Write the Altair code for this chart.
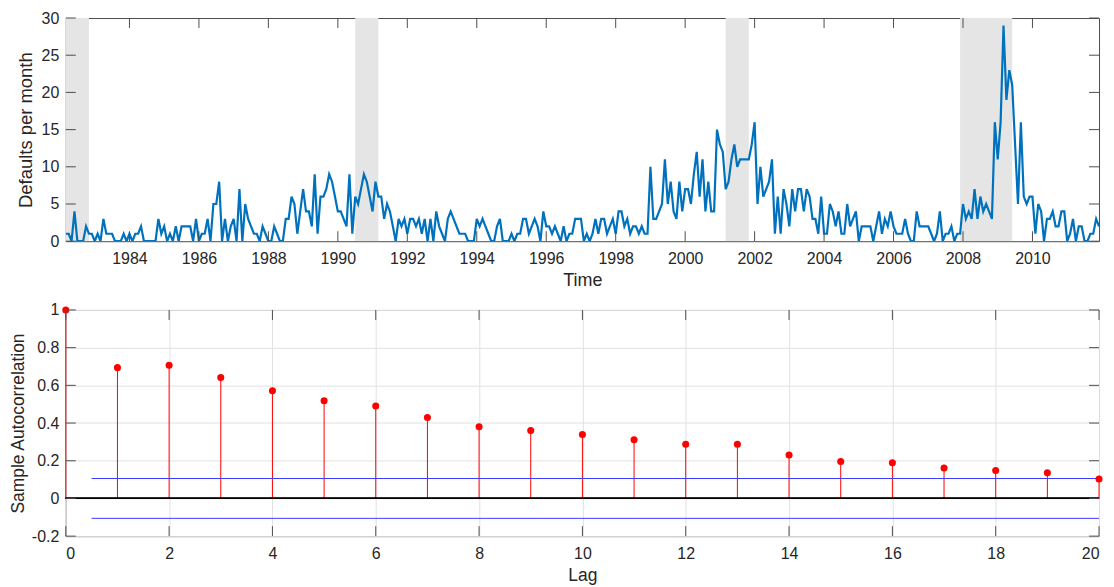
import altair as alt
import pandas as pd

# ---------------- data ----------------
START_YEAR = 1982
START_MONTH = 3  # first observation: March 1982 (monthly to Dec 2011)
defaults = [
    1, 1, 0, 4, 0, 0, 0, 2, 1, 1,
    0, 1, 0, 3, 1, 1, 1, 0, 0, 0,
    1, 0, 1, 0, 1, 1, 2, 0, 0, 0,
    0, 0, 3, 1, 2, 0, 1, 0, 2, 0,
    2, 2, 2, 2, 0, 3, 0, 1, 1, 3,
    0, 5, 5, 8, 0, 3, 0, 2, 3, 0,
    7, 0, 5, 3, 2, 1, 1, 0, 2, 1,
    0, 0, 2, 1, 0, 0, 3, 3, 6, 5,
    1, 4, 7, 4, 4, 2, 9, 1, 6, 6,
    7, 9, 8, 6, 4, 4, 3, 2, 9, 1,
    6, 5, 7, 9, 8, 6, 4, 8, 6, 6,
    3, 5, 4, 2, 0, 3, 2, 3, 1, 3,
    3, 2, 3, 1, 3, 0, 3, 0, 4, 2,
    1, 0, 3, 4, 3, 2, 1, 1, 1, 0,
    0, 0, 3, 2, 3, 2, 1, 0, 0, 2,
    3, 0, 0, 0, 1, 0, 1, 1, 3, 3,
    1, 2, 3, 2, 0, 4, 2, 2, 1, 2,
    1, 0, 2, 0, 1, 1, 3, 3, 3, 0,
    1, 0, 1, 3, 1, 3, 3, 1, 2, 3,
    1, 4, 4, 2, 3, 1, 2, 2, 1, 2,
    1, 1, 10, 3, 3, 4, 5, 11, 5, 8,
    4, 3, 8, 4, 7, 7, 5, 9, 12, 6,
    11, 4, 8, 4, 4, 15, 13, 12, 7, 8,
    11, 13, 10, 11, 11, 11, 11, 13, 16, 5,
    10, 6, 7, 8, 11, 1, 6, 1, 7, 5,
    2, 7, 4, 7, 7, 4, 7, 6, 3, 3,
    1, 6, 1, 1, 5, 4, 2, 4, 1, 1,
    5, 2, 3, 4, 0, 2, 2, 2, 2, 0,
    2, 4, 1, 3, 2, 4, 2, 1, 1, 1,
    3, 1, 0, 0, 4, 2, 2, 2, 2, 1,
    0, 1, 4, 0, 1, 1, 2, 0, 1, 1,
    5, 3, 4, 3, 7, 3, 6, 4, 5, 4,
    3, 16, 11, 16, 29, 19, 23, 21, 13, 5,
    16, 6, 5, 6, 6, 1, 5, 4, 0, 3,
    3, 4, 2, 2, 4, 4, 0, 1, 3, 0,
    2, 2, 0, 0, 1, 1, 3, 2,
]
recession_start = ["1981-07", "1990-07", "2001-03", "2007-12"]
recession_end = ["1982-11", "1991-03", "2001-11", "2009-06"]
year_ticks = list(range(1984, 2011, 2))
top_y_ticks = [0, 5, 10, 15, 20, 25, 30]

lags = list(range(21))
acf = [1.0, 0.694, 0.707, 0.641, 0.571, 0.518, 0.490, 0.429, 0.380, 0.360,
       0.339, 0.311, 0.288, 0.288, 0.230, 0.196, 0.189, 0.161, 0.148, 0.136, 0.103]
conf_bound = 0.1057
lag_ticks = list(range(0, 21, 2))
acf_ticks = [-0.2, 0, 0.2, 0.4, 0.6, 0.8, 1]

# ---------------- tables ----------------
def ym_to_dec(s):
    y, m = s.split("-")
    return int(y) + (int(m) - 1) / 12.0

t0 = START_YEAR + (START_MONTH - 1) / 12.0
ts = pd.DataFrame({"t": [t0 + i / 12.0 for i in range(len(defaults))], "v": defaults})
t_end = ts["t"].iloc[-1]
rec = pd.DataFrame({"a": [max(ym_to_dec(s), t0) for s in recession_start],
                    "b": [ym_to_dec(s) for s in recession_end]})
yr = pd.DataFrame({"yr": year_ticks})
ytk = pd.DataFrame({"yt": top_y_ticks})
ac = pd.DataFrame({"lag": lags, "acf": acf})
bnd = pd.DataFrame({"x0": [0.5, 0.5], "x1": [20, 20], "b": [conf_bound, -conf_bound]})
lt = pd.DataFrame({"lt": lag_ticks})
at = pd.DataFrame({"at": acf_ticks})

W = 1037
H1 = 224
H2 = 227
TL = 10  # inward tick length
TC = "#4d4d4d"
FONT = "Liberation Sans"
TXT = "#262626"
LFS = 16
TFS = 17.5


def axis(values, title, grid, tpad, tfs=TFS, **kw):
    return alt.Axis(values=values, title=title, ticks=False, domain=False, grid=grid,
                    gridColor="#e1e1e1", labelFont=FONT, titleFont=FONT,
                    labelFontSize=LFS, titleFontSize=tfs, labelColor=TXT,
                    titleColor=TXT, titleFontWeight="normal", titlePadding=tpad, **kw)


xs_top = alt.Scale(domain=[t0, t_end], nice=False, zero=False)
ys_top = alt.Scale(domain=[0, 30], nice=False)

XA1 = axis(year_ticks, "Time", False, 5, tfs=18, format="d", labelPadding=9)
YA1 = axis(top_y_ticks, "Defaults per month", False, 6, tfs=18.5, labelPadding=7)

shade = alt.Chart(rec).mark_rect(color="#e5e5e5", clip=True).encode(
    x=alt.X("a:Q", scale=xs_top, axis=XA1), x2="b:Q")

line = alt.Chart(ts).mark_line(color="#0072BD", strokeWidth=2.2, clip=True).encode(
    x=alt.X("t:Q", scale=xs_top, axis=XA1),
    y=alt.Y("v:Q", scale=ys_top, axis=YA1))

xt_bot = alt.Chart(yr).mark_rule(color=TC, strokeWidth=1).encode(
    x=alt.X("yr:Q", scale=xs_top, axis=XA1), y=alt.value(H1 - TL), y2=alt.value(H1))
xt_top = alt.Chart(yr).mark_rule(color=TC, strokeWidth=1).encode(
    x=alt.X("yr:Q", scale=xs_top, axis=XA1), y=alt.value(0), y2=alt.value(TL))
yt_left = alt.Chart(ytk).mark_rule(color=TC, strokeWidth=1).encode(
    y=alt.Y("yt:Q", scale=ys_top, axis=YA1), x=alt.value(0), x2=alt.value(TL))
yt_right = alt.Chart(ytk).mark_rule(color=TC, strokeWidth=1).encode(
    y=alt.Y("yt:Q", scale=ys_top, axis=YA1), x=alt.value(W - TL), x2=alt.value(W))

top = alt.layer(shade, line, xt_bot, xt_top, yt_left, yt_right).properties(width=W, height=H1)

# ---------------- bottom (ACF) ----------------
xs_bot = alt.Scale(domain=[0, 20], nice=False, zero=False)
ys_bot = alt.Scale(domain=[-0.2, 1], nice=False)
XA2 = axis(lag_ticks, "Lag", True, 6, labelPadding=9)
YA2 = axis(acf_ticks, "Sample Autocorrelation", True, 4, labelPadding=7,
           labelExpr="'' + datum.value")

stems = alt.Chart(ac).mark_rule(color="#ff0000", strokeWidth=1).encode(
    x=alt.X("lag:Q", scale=xs_bot, axis=XA2),
    y=alt.Y("acf:Q", scale=ys_bot, axis=YA2), y2=alt.datum(0))
zero_line = alt.Chart(ac).mark_rule(color="black", strokeWidth=1).encode(
    y=alt.datum(0, scale=ys_bot, axis=YA2))
bounds = alt.Chart(bnd).mark_rule(color="#3b3bff", strokeWidth=1).encode(
    x=alt.X("x0:Q", scale=xs_bot, axis=XA2), x2="x1:Q",
    y=alt.Y("b:Q", scale=ys_bot, axis=YA2))
dots = alt.Chart(ac).mark_circle(color="#ff0000", size=50, opacity=1).encode(
    x=alt.X("lag:Q", scale=xs_bot, axis=XA2), y=alt.Y("acf:Q", scale=ys_bot, axis=YA2))

lx_bot = alt.Chart(lt).mark_rule(color=TC, strokeWidth=1).encode(
    x=alt.X("lt:Q", scale=xs_bot, axis=XA2), y=alt.value(H2 - TL), y2=alt.value(H2))
lx_top = alt.Chart(lt).mark_rule(color=TC, strokeWidth=1).encode(
    x=alt.X("lt:Q", scale=xs_bot, axis=XA2), y=alt.value(0), y2=alt.value(TL))
ay_left = alt.Chart(at).mark_rule(color=TC, strokeWidth=1).encode(
    y=alt.Y("at:Q", scale=ys_bot, axis=YA2), x=alt.value(0), x2=alt.value(TL))
ay_right = alt.Chart(at).mark_rule(color=TC, strokeWidth=1).encode(
    y=alt.Y("at:Q", scale=ys_bot, axis=YA2), x=alt.value(W - TL), x2=alt.value(W))

bottom = alt.layer(stems, zero_line, bounds, dots, lx_bot, lx_top, ay_left, ay_right).properties(
    width=W, height=H2)

chart = alt.vconcat(top, bottom, spacing=69, bounds="flush").properties(
    padding={"left": 0, "top": 0, "right": 2, "bottom": 2}, background="white"
).configure_view(stroke=TC, strokeWidth=1)

chart.save("out.html", embed_options={"renderer": "svg", "actions": False})
